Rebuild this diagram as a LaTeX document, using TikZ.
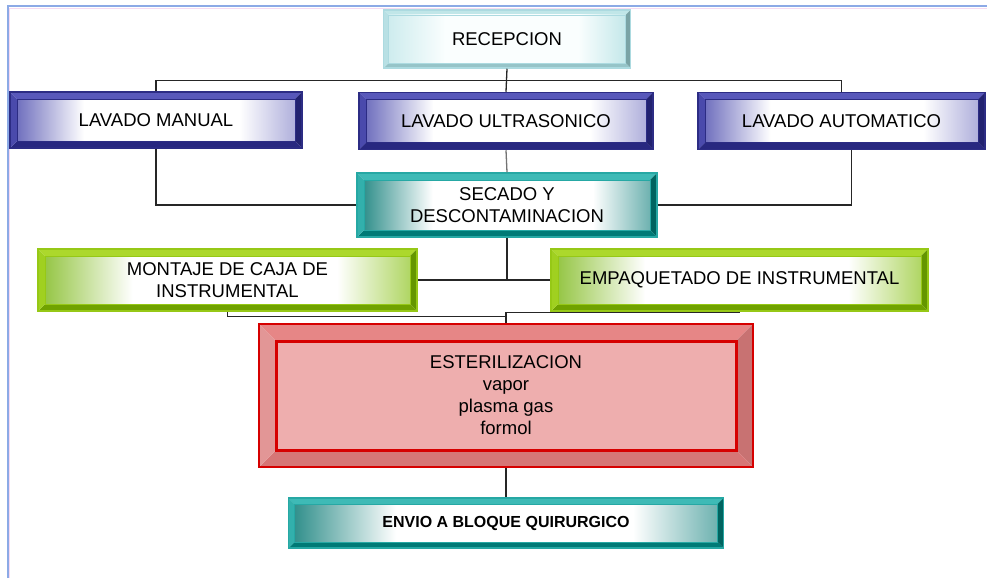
\documentclass[tikz,border=0pt]{standalone}
\usepackage{fontspec}
\setmainfont{Liberation Sans}
\usetikzlibrary{calc}

% colour families: E edge, T/R/B/L bevels, S/M/F inner shading
\definecolor{paleE}{RGB}{172,218,224}
\definecolor{paleT}{RGB}{192,230,232}
\definecolor{paleL}{RGB}{184,224,228}
\definecolor{paleB}{RGB}{150,196,200}
\definecolor{paleR}{RGB}{122,164,166}
\definecolor{paleS}{RGB}{206,236,238}
\definecolor{paleM}{RGB}{250,254,254}
\definecolor{paleF}{RGB}{196,232,234}

\definecolor{blueE}{RGB}{44,44,132}
\definecolor{blueT}{RGB}{88,88,186}
\definecolor{blueL}{RGB}{74,74,172}
\definecolor{blueB}{RGB}{40,40,128}
\definecolor{blueR}{RGB}{34,34,112}
\definecolor{blueS}{RGB}{112,112,190}
\definecolor{blueM}{RGB}{255,255,255}
\definecolor{blueF}{RGB}{176,176,220}

\definecolor{tealE}{RGB}{38,168,164}
\definecolor{tealT}{RGB}{62,186,182}
\definecolor{tealL}{RGB}{50,176,172}
\definecolor{tealB}{RGB}{0,122,118}
\definecolor{tealR}{RGB}{0,100,96}
\definecolor{tealS}{RGB}{50,144,140}
\definecolor{tealM}{RGB}{255,255,255}
\definecolor{tealF}{RGB}{110,178,176}

\definecolor{greenE}{RGB}{150,200,22}
\definecolor{greenT}{RGB}{172,216,44}
\definecolor{greenL}{RGB}{160,208,32}
\definecolor{greenB}{RGB}{112,162,0}
\definecolor{greenR}{RGB}{100,150,0}
\definecolor{greenS}{RGB}{150,198,70}
\definecolor{greenM}{RGB}{255,255,255}
\definecolor{greenF}{RGB}{176,214,100}

\definecolor{redE}{RGB}{214,0,0}
\definecolor{redT}{RGB}{230,134,134}
\definecolor{redL}{RGB}{226,150,150}
\definecolor{redB}{RGB}{214,118,118}
\definecolor{redR}{RGB}{200,114,114}
\definecolor{redS}{RGB}{238,174,174}
\definecolor{redM}{RGB}{238,174,174}
\definecolor{redF}{RGB}{238,174,174}

\definecolor{framecol}{RGB}{140,170,230}
\definecolor{framepink}{RGB}{246,218,242}

% inner gradient (only 25bp-75bp is seen), colours set just before use
\colorlet{shS}{white}\colorlet{shM}{white}\colorlet{shF}{white}
\pgfdeclarehorizontalshading[shS,shM,shF]{bevelshade}{100bp}{color(0bp)=(shS); color(25bp)=(shS); color(37bp)=(shM); color(65bp)=(shM); color(75bp)=(shF); color(100bp)=(shF)}

\newcommand{\boxfont}{\fontsize{18.5}{22}\selectfont}

\tikzset{
  % #1 colour family, #2 bevel width, #3 inner line width
  bevelbox/.style n args={3}{
    draw=#1E, line width=1.5pt, inner sep=0pt, align=center, font=\boxfont,
    path picture={
      \path (path picture bounding box.north west) coordinate (pa)
            (path picture bounding box.north east) coordinate (pb)
            (path picture bounding box.south east) coordinate (pc)
            (path picture bounding box.south west) coordinate (pd)
            ([shift={(#2,-#2)}]pa) coordinate (qa)
            ([shift={(-#2,-#2)}]pb) coordinate (qb)
            ([shift={(-#2,#2)}]pc) coordinate (qc)
            ([shift={(#2,#2)}]pd) coordinate (qd);
      \fill[#1T] (pa) -- (pb) -- (qb) -- (qa) -- cycle;
      \fill[#1R] (pb) -- (pc) -- (qc) -- (qb) -- cycle;
      \fill[#1B] (pc) -- (pd) -- (qd) -- (qc) -- cycle;
      \fill[#1L] (pd) -- (pa) -- (qa) -- (qd) -- cycle;
      \colorlet{shS}{#1S}\colorlet{shM}{#1M}\colorlet{shF}{#1F}
      \shade[shading=bevelshade] (qa) rectangle (qc);
      \draw[#1E, line width=#3] (qa) rectangle (qc);
    }
  },
  conn/.style={draw=black!85, line width=1.3pt}
}

\begin{document}
\begin{tikzpicture}[x=1pt, y=-1pt]
	\useasboundingbox (0,0) rectangle (987,578);
	% frame lines
	\draw[framepink, line width=1pt] (9.5,578) -- (9.5,8.5) -- (987,8.5);
	\draw[framecol, line width=2pt] (7.5,578) -- (7.5,6.5) -- (987,6.5);
	% boxes
	\node[bevelbox={pale}{5pt}{0.6pt}, minimum width=247pt, minimum height=58pt] (recep) at (507,39) {RECEPCION};
	\node[bevelbox={blue}{7pt}{0.8pt}, minimum width=292pt, minimum height=56pt] (manual) at (156,120) {LAVADO MANUAL};
	\node[bevelbox={blue}{7pt}{0.8pt}, minimum width=294pt, minimum height=57pt] (ultra) at (506,121) {LAVADO ULTRASONICO};
	\node[bevelbox={blue}{7pt}{0.8pt}, minimum width=287pt, minimum height=57pt] (auto) at (841.5,121) {LAVADO AUTOMATICO};
	\node[bevelbox={teal}{7pt}{0.8pt}, minimum width=300pt, minimum height=64pt] (secado) at (507,205) {SECADO Y\\DESCONTAMINACION};
	\node[bevelbox={green}{7pt}{0.8pt}, minimum width=379pt, minimum height=62pt] (montaje) at (227.5,280) {MONTAJE DE CAJA DE\\INSTRUMENTAL};
	\node[bevelbox={green}{7pt}{0.8pt}, minimum width=377pt, minimum height=62pt] (empaq) at (739.5,280) {EMPAQUETADO DE INSTRUMENTAL};
	\node[bevelbox={red}{17pt}{3pt}, line width=2.5pt, minimum width=494pt, minimum height=143pt] (ester) at (506,395.5) {ESTERILIZACION\\vapor\\plasma gas\\formol};
	\node[bevelbox={teal}{6pt}{0.8pt}, minimum width=435pt, minimum height=50pt, font=\fontsize{16}{18}\selectfont\bfseries] (envio) at (506,523) {ENVIO A BLOQUE QUIRURGICO};
	% connectors
	\path (recep.south) ++(0,12) coordinate (topsplit);
	\path (ester.north) ++(0,-6) coordinate (ljoin);
	\path (ester.north) ++(0,-10) coordinate (rjoin);
	\draw[conn] (recep.south) -- (ultra.north);
	\draw[conn] (manual.north) |- (topsplit) -| (auto.north);
	\draw[conn] (manual.south) |- (secado.west);
	\draw[conn] ([xshift=10pt]auto.south) |- (secado.east);
	\draw[conn, draw=black!55] (ultra.south) -- (secado.north);
	\draw[conn, line width=2.4pt] (secado.south) -- (secado.south |- montaje.east);
	\draw[conn] (montaje.east) -- (empaq.west);
	\draw[conn] (montaje.south) |- (ljoin);
	\draw[conn] (empaq.south) |- (rjoin) -- (ester.north);
	\draw[conn] (ester.south) -- (envio.north);
\end{tikzpicture}
\end{document}
